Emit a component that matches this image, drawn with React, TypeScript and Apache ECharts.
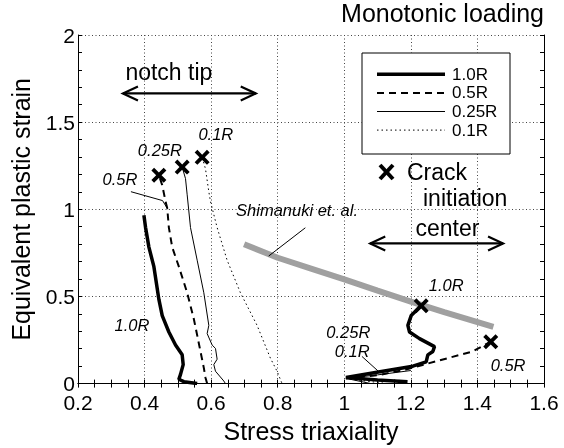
import React, { useEffect, useRef } from "react";
import * as echarts from "echarts";

// ---- data (stress triaxiality, equivalent plastic strain) ----
const notch10R = [[0.398,0.966],[0.403,0.895],[0.413,0.783],[0.428,0.671],[0.443,0.483],[0.453,0.39],[0.473,0.296],[0.493,0.221],[0.513,0.165],[0.516,0.109],[0.508,0.053],[0.503,0.025],[0.518,0.011],[0.558,0.0]];
const notch05R = [[0.588,0.0],[0.583,0.034],[0.578,0.09],[0.568,0.184],[0.558,0.278],[0.548,0.371],[0.528,0.521],[0.503,0.671],[0.483,0.783],[0.473,0.895],[0.468,1.008],[0.463,1.045],[0.453,1.139],[0.443,1.195]];
const notch025R = [[0.643,0.0],[0.638,0.015],[0.613,0.071],[0.608,0.109],[0.618,0.14],[0.613,0.202],[0.603,0.221],[0.588,0.287],[0.593,0.334],[0.578,0.521],[0.558,0.708],[0.538,0.895],[0.528,1.083],[0.523,1.176],[0.513,1.242]];
const notch01R = [[0.812,0.005],[0.798,0.071],[0.778,0.146],[0.738,0.334],[0.688,0.521],[0.648,0.708],[0.618,0.895],[0.598,1.045],[0.593,1.101],[0.583,1.232],[0.573,1.298]];
const center10R = [[1.19,0.01],[1.1,0.02],[1.005,0.035],[1.107,0.068],[1.206,0.1],[1.246,0.125],[1.251,0.165],[1.266,0.184],[1.271,0.212],[1.226,0.258],[1.196,0.296],[1.191,0.334],[1.201,0.39],[1.231,0.446]];
const center05R = [[1.005,0.03],[1.106,0.05],[1.186,0.081],[1.276,0.128],[1.385,0.184],[1.44,0.24]];
const center025R = [[1.08,0.0],[1.005,0.03],[1.1,0.05],[1.2,0.075]];
const center01R = [[1.13,0.0],[1.005,0.028],[1.1,0.022],[1.17,0.018]];
const shimanuki = [[0.699,0.8],[0.8,0.722],[0.9,0.66],[1.0,0.598],[1.1,0.533],[1.2,0.47],[1.3,0.41],[1.448,0.325]];
const crackInitiation = [[0.443,1.195],[0.513,1.242],[0.573,1.298],[1.231,0.446],[1.44,0.24]];
const legendNames = ["1.0R", "0.5R", "0.25R", "0.1R"];

// annotation labels in data coordinates
const curveLabels = [
  { text: "0.1R", at: [0.614, 1.43] },
  { text: "0.25R", at: [0.446, 1.341] },
  { text: "0.5R", at: [0.326, 1.173] },
  { text: "1.0R", at: [0.362, 0.335] },
  { text: "1.0R", at: [1.306, 0.564] },
  { text: "0.5R", at: [1.492, 0.106] },
  { text: "0.25R", at: [1.012, 0.297] },
  { text: "0.1R", at: [1.024, 0.185] },
];
const pointerLines = [
  [[0.359, 1.101], [0.454, 1.05], [0.47, 1.0]],
  [[0.883, 0.894], [0.773, 0.732]],
  [[1.053, 0.156], [1.108, 0.061]],
];

const FONT = "Liberation Sans, Arial, Helvetica, sans-serif";
const XMARK = "path://M0,1.8 L1.8,0 L5,3.2 L8.2,0 L10,1.8 L6.8,5 L10,8.2 L8.2,10 L5,6.8 L1.8,10 L0,8.2 L3.2,5 Z";

const STYLES: Record<string, { width: number; type: any }> = {
  "1.0R": { width: 3.5, type: "solid" },
  "0.5R": { width: 2, type: [7, 5] },
  "0.25R": { width: 1, type: "solid" },
  "0.1R": { width: 1, type: [1.5, 3] },
};

export default function App() {
  const ref = useRef<HTMLDivElement>(null);
  useEffect(() => {
    if (!ref.current) return;
    document.body.style.margin = "0";
    const chart = echarts.init(ref.current, null, { renderer: "svg" });
    const axisCommon = {
      axisLine: { show: true, lineStyle: { color: "#000", width: 1 } },
      axisTick: { show: true, inside: true, length: 4, lineStyle: { color: "#000" } },
      minorTick: { show: true, length: 4, lineStyle: { color: "#000" } },
    };
    const lineSeries = (name: string, data: number[][], z = 3) => ({
      type: "line",
      name,
      data,
      symbol: "none",
      smooth: false,
      z,
      lineStyle: { color: "#000", width: STYLES[name].width, type: STYLES[name].type },
      itemStyle: { color: "#000" },
    });
    chart.setOption({
      animation: false,
      title: {
        text: "Monotonic loading",
        right: 20,
        top: 0,
        padding: 0,
        textStyle: { fontFamily: FONT, fontSize: 25, fontWeight: "normal", color: "#000" },
      },
      grid: { left: 77, right: 20, top: 35, bottom: 55 },
      xAxis: [
        {
          type: "value", min: 0.2, max: 1.6, interval: 0.2,
          ...axisCommon,
          minorTick: { ...axisCommon.minorTick, splitNumber: 4 },
          axisLabel: { color: "#000", fontFamily: FONT, fontSize: 21, lineHeight: 16, margin: 11 },
          splitLine: { show: true, lineStyle: { color: "#444", width: 1, type: [1, 2.5] } },
          name: "Stress triaxiality",
          nameLocation: "middle",
          nameGap: 25,
          nameTextStyle: { fontFamily: FONT, fontSize: 25, color: "#000" },
        },
        {
          type: "value", min: 0.2, max: 1.6, interval: 0.2, position: "top",
          ...axisCommon,
          minorTick: { ...axisCommon.minorTick, splitNumber: 4 },
          axisLabel: { show: false },
          splitLine: { show: false },
        },
      ],
      yAxis: [
        {
          type: "value", min: 0, max: 2, interval: 0.5,
          ...axisCommon,
          minorTick: { ...axisCommon.minorTick, splitNumber: 5 },
          axisLabel: { color: "#000", fontFamily: FONT, fontSize: 21, lineHeight: 15, margin: 3 },
          splitLine: { show: true, lineStyle: { color: "#444", width: 1, type: [1, 2.5] } },
          name: "Equivalent plastic strain",
          nameLocation: "middle",
          nameGap: 45,
          nameTextStyle: { fontFamily: FONT, fontSize: 25, color: "#000" },
        },
        {
          type: "value", min: 0, max: 2, interval: 0.5, position: "right",
          ...axisCommon,
          minorTick: { ...axisCommon.minorTick, splitNumber: 5 },
          axisLabel: { show: false },
          splitLine: { show: false },
        },
      ],
      series: [
        {
          type: "line", name: "Shimanuki et. al.", data: shimanuki, symbol: "none", z: 2,
          lineStyle: { color: "#a0a0a0", width: 6 },
        },
        lineSeries("1.0R", notch10R),
        lineSeries("0.5R", notch05R),
        lineSeries("0.25R", notch025R),
        lineSeries("0.1R", notch01R),
        lineSeries("1.0R", center10R),
        lineSeries("0.5R", center05R),
        lineSeries("0.25R", center025R),
        lineSeries("0.1R", center01R),
        {
          type: "scatter", name: "Crack initiation", data: crackInitiation,
          symbol: XMARK, symbolSize: 15, z: 5,
          itemStyle: { color: "#000", opacity: 1 },
        },
      ],
    });

    const toPx = (p: number[]) => chart.convertToPixel({ xAxisIndex: 0, yAxisIndex: 0 }, p) as number[];
    const arrow = (x1: number, x2: number, y: number) => {
      const a = toPx([x1, y]);
      const b = toPx([x2, y]);
      const h = 15, w = 7;
      const st = { stroke: "#000", lineWidth: 2.2, fill: "none" };
      return [
        { type: "line", shape: { x1: a[0], y1: a[1], x2: b[0], y2: b[1] }, style: st, z: 10 },
        { type: "polyline", shape: { points: [[a[0] + h, a[1] - w], [a[0], a[1]], [a[0] + h, a[1] + w]] }, style: st, z: 10 },
        { type: "polyline", shape: { points: [[b[0] - h, b[1] - w], [b[0], b[1]], [b[0] - h, b[1] + w]] }, style: st, z: 10 },
      ];
    };
    const text = (t: string, at: number[], size: number, italic: boolean) => {
      const p = toPx(at);
      return {
        type: "text", x: p[0], y: p[1], z: 10,
        style: { text: t, fontSize: size, fontFamily: FONT, fontStyle: italic ? "italic" : "normal", fill: "#000", align: "center", verticalAlign: "middle" },
      };
    };
    const graphics: any[] = [];
    graphics.push(...arrow(0.335, 0.734, 1.665));
    graphics.push(text("notch tip", [0.473, 1.79], 23, false));
    graphics.push(...arrow(1.078, 1.477, 0.804));
    graphics.push(text("center", [1.31, 0.894], 23, false));
    graphics.push(text("Shimanuki et. al.", [0.858, 0.994], 16.5, true));
    curveLabels.forEach((l) => graphics.push(text(l.text, l.at, 16.5, true)));
    pointerLines.forEach((pts) => {
      graphics.push({
        type: "polyline", z: 10,
        shape: { points: pts.map(toPx) },
        style: { stroke: "#000", lineWidth: 1, fill: "none" },
      });
    });
    // legend box
    const lgX = 362, lgY = 53, lgW = 148, lgH = 101, rowY0 = 74.3, rowGap = 18.6;
    const legendChildren: any[] = [
      { type: "rect", shape: { x: lgX, y: lgY, width: lgW, height: lgH }, style: { fill: "#fff", stroke: "#000", lineWidth: 1 } },
    ];
    legendNames.forEach((n, i) => {
      const y = rowY0 + i * rowGap;
      const s = STYLES[n];
      legendChildren.push({
        type: "line", shape: { x1: 377, y1: y, x2: 445, y2: y },
        style: { stroke: "#000", lineWidth: s.width, lineDash: Array.isArray(s.type) ? s.type : null },
      });
      legendChildren.push({
        type: "text", x: 452, y,
        style: { text: n, fontSize: 17, fontFamily: FONT, fill: "#000", align: "left", verticalAlign: "middle" },
      });
    });
    graphics.push({ type: "group", z: 9, children: legendChildren });
    // crack initiation legend entry
    graphics.push({
      type: "group", x: 380, y: 165, z: 10,
      children: [
        { type: "line", shape: { x1: 0, y1: 0, x2: 13, y2: 14 }, style: { stroke: "#000", lineWidth: 4 } },
        { type: "line", shape: { x1: 13, y1: 0, x2: 0, y2: 14 }, style: { stroke: "#000", lineWidth: 4 } },
      ],
    });
    graphics.push({
      type: "text", x: 407, y: 172, z: 10,
      style: { text: "Crack", fontSize: 23, fontFamily: FONT, fill: "#000", align: "left", verticalAlign: "middle" },
    });
    graphics.push({
      type: "text", x: 423, y: 198, z: 10,
      style: { text: "initiation", fontSize: 23, fontFamily: FONT, fill: "#000", align: "left", verticalAlign: "middle" },
    });
    chart.setOption({ graphic: graphics });

    return () => chart.dispose();
  }, []);
  return <div ref={ref} style={{ width: 564, height: 448, position: "fixed", left: 0, top: 0 }} />;
}
